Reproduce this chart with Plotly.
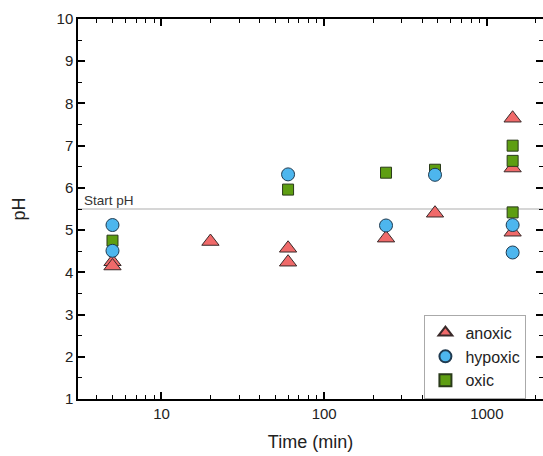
import plotly.graph_objects as go

# Data
anoxic_t = [5, 5, 20, 60, 60, 240, 480, 1440, 1440, 1440]
anoxic_ph = [4.25, 4.15, 4.73, 4.57, 4.24, 4.81, 5.40, 7.65, 6.47, 4.95]

hypoxic_t = [5, 5, 60, 240, 480, 1440, 1440]
hypoxic_ph = [5.12, 4.51, 6.32, 5.11, 6.31, 5.12, 4.47]

oxic_t = [5, 60, 240, 480, 1440, 1440, 1440]
oxic_ph = [4.75, 5.96, 6.36, 6.43, 7.00, 6.64, 5.42]

start_ph = 5.5
x_major = [10, 100, 1000]
x_minor = [3, 4, 5, 6, 7, 8, 9, 20, 30, 40, 50, 60, 70, 80, 90,
           200, 300, 400, 500, 600, 700, 800, 900, 2000]
y_major = [1, 2, 3, 4, 5, 6, 7, 8, 9, 10]
y_minor = [1.5, 2.5, 3.5, 4.5, 5.5, 6.5, 7.5, 8.5, 9.5]

fig = go.Figure()

# invisible helper trace so the right-hand tick axis is drawn
fig.add_trace(go.Scatter(
    x=anoxic_t, y=anoxic_ph, yaxis="y2", mode="markers", showlegend=False,
    hoverinfo="skip", marker=dict(opacity=0, size=1)))

fig.add_trace(go.Scatter(
    x=anoxic_t, y=anoxic_ph, mode="markers", name="anoxic", legendrank=1,
    marker=dict(symbol="triangle-up", size=15, color="#F06A6A",
                line=dict(color="#3a2a2a", width=1))))
fig.add_trace(go.Scatter(
    x=oxic_t, y=oxic_ph, mode="markers", name="oxic", legendrank=3,
    marker=dict(symbol="square", size=11, color="#5E9E12",
                line=dict(color="#2a3a1a", width=1))))
fig.add_trace(go.Scatter(
    x=hypoxic_t, y=hypoxic_ph, mode="markers", name="hypoxic", legendrank=2,
    marker=dict(symbol="circle", size=13, color="#4DB6EE",
                line=dict(color="#1f3a50", width=1))))

fig.add_shape(type="line", xref="paper", yref="y", x0=0, x1=1,
              y0=start_ph, y1=start_ph, line=dict(color="#c8c8c8", width=1.5),
              layer="below")
fig.add_annotation(xref="paper", yref="y", x=0.008, y=start_ph, text="Start pH",
                   showarrow=False, xanchor="left", yanchor="bottom", yshift=-1,
                   font=dict(size=13.5, color="#333333"))

tick_common = dict(ticks="inside", ticklen=7, tickwidth=1.5, tickcolor="black",
                   showgrid=False, zeroline=False,
                   tickfont=dict(size=15, color="#222222"))
minor_y = dict(ticks="inside", ticklen=4, tickwidth=1.2, tickcolor="black",
               tickmode="array", tickvals=y_minor)

fig.update_xaxes(type="log", range=[0.487, 3.345], tickmode="array",
                 tickvals=x_major, ticktext=[str(v) for v in x_major],
                 showline=True, linecolor="black", linewidth=1.5, mirror="ticks",
                 minor=dict(ticks="inside", ticklen=4, tickwidth=1.2,
                            tickcolor="black", tickmode="array", tickvals=x_minor),
                 title=dict(text="Time (min)", font=dict(size=18, color="#222222"),
                            standoff=15),
                 **tick_common)
fig.update_yaxes(range=[1, 10], tickmode="array", tickvals=y_major,
                 showline=True, linecolor="black", linewidth=1.5, mirror=False,
                 minor=minor_y,
                 title=dict(text="pH", font=dict(size=18, color="#222222"),
                            standoff=26),
                 **tick_common)

fig.update_layout(
    yaxis2=dict(overlaying="y", side="right", range=[1, 10],
                tickmode="array", tickvals=y_major, showticklabels=False,
                showline=False, minor=minor_y, **tick_common),
    width=543, height=456,
    margin=dict(l=78, r=0, t=19, b=57),
    plot_bgcolor="white", paper_bgcolor="white",
    font=dict(family="Liberation Sans, Arial, sans-serif"),
    showlegend=True,
    legend=dict(x=0.745, y=0.222, xanchor="left", yanchor="top",
                bordercolor="#aaaaaa", borderwidth=1, bgcolor="white",
                font=dict(size=16, color="#222222"), itemsizing="constant",
                tracegroupgap=0),
)

fig.write_html("out.html")
